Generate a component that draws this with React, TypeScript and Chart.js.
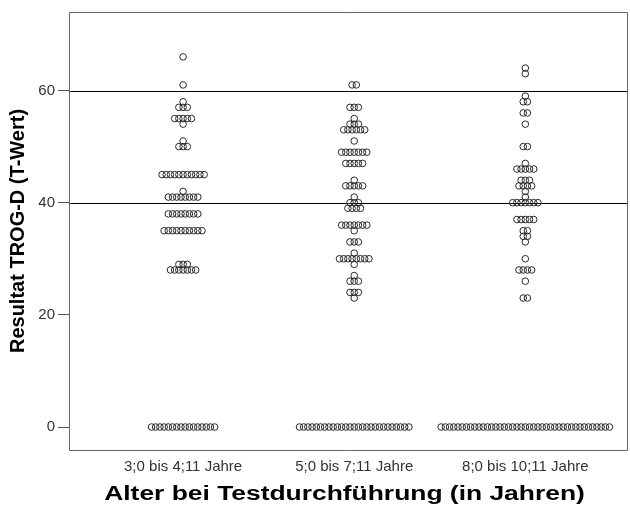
import React, { useEffect, useRef } from "react";
import { Chart, registerables } from "chart.js";

Chart.register(...registerables);

// ---- Data ----
const categories = ["3;0 bis 4;11 Jahre", "5;0 bis 7;11 Jahre", "8;0 bis 10;11 Jahre"];
const categoryPositions = [1, 2, 3];

// Group 1: 3;0 bis 4;11 Jahre (value, number of children)
const group1Values = [66, 61, 58, 57, 55, 54, 51, 50, 45, 42, 41, 38, 35, 29, 28, 0];
const group1Counts = [1, 1, 1, 3, 5, 1, 1, 3, 11, 1, 8, 8, 10, 3, 7, 16];

// Group 2: 5;0 bis 7;11 Jahre
const group2Values = [61, 57, 55, 54, 53, 51, 49, 47, 44, 43, 41, 40, 39, 36, 35, 33, 31, 30, 29, 27, 26, 24, 23, 0];
const group2Counts = [2, 3, 1, 3, 6, 1, 7, 5, 1, 5, 1, 3, 4, 7, 1, 3, 1, 8, 1, 1, 3, 3, 1, 27];

// Group 3: 8;0 bis 10;11 Jahre
const group3Values = [64, 63, 59, 58, 56, 54, 50, 47, 46, 44, 43, 42, 41, 40, 37, 35, 34, 33, 30, 28, 26, 23, 0];
const group3Counts = [1, 1, 1, 2, 2, 1, 2, 1, 5, 3, 4, 1, 1, 7, 5, 2, 2, 1, 1, 4, 1, 2, 41];

const yTicks = [0, 20, 40, 60];
const referenceLines = [40, 60];

const yTitle = "Resultat TROG-D (T-Wert)";
const xTitle = "Alter bei Testdurchführung (in Jahren)";

// ---- Helpers ----
const DOT_STEP = 0.0246; // horizontal spacing of stacked dots (x-axis units)
const FONT = "'Liberation Sans', Arial, sans-serif";

function buildPoints(center: number, values: number[], counts: number[]) {
  const pts: { x: number; y: number }[] = [];
  values.forEach((v, i) => {
    const n = counts[i];
    for (let k = 0; k < n; k++) {
      pts.push({ x: center + (k - (n - 1) / 2) * DOT_STEP, y: v });
    }
  });
  return pts;
}

const framePlugin = {
  id: "frameAndRefs",
  beforeDatasetsDraw(chart: any) {
    const { ctx, chartArea: a, scales } = chart;
    const y = scales.y;
    ctx.save();
    ctx.lineWidth = 1;
    ctx.strokeStyle = "#000";
    referenceLines.forEach((v) => {
      const py = Math.round(y.getPixelForValue(v)) + 0.5;
      ctx.beginPath();
      ctx.moveTo(a.left, py);
      ctx.lineTo(a.right, py);
      ctx.stroke();
    });
    ctx.strokeStyle = "#666";
    const l = Math.round(a.left) + 0.5;
    const t = Math.round(a.top) + 0.5;
    const r = Math.round(a.right) - 0.5;
    const b = Math.round(a.bottom) + 0.5;
    ctx.beginPath();
    ctx.moveTo(l, t);
    ctx.lineTo(r, t);
    ctx.lineTo(r, b);
    ctx.lineTo(l, b);
    ctx.closePath();
    ctx.stroke();
    ctx.restore();
  },
};

// x-axis title, drawn slightly widened as in the reference
const xTitlePlugin = {
  id: "xTitleWide",
  afterDraw(chart: any) {
    const { ctx } = chart;
    const xs = chart.scales.x;
    ctx.save();
    ctx.fillStyle = "#000";
    ctx.font = `bold 20px ${FONT}`;
    ctx.textAlign = "center";
    ctx.textBaseline = "middle";
    const cx = (xs.left + xs.right) / 2 - 4;
    const cy = xs.bottom - 19;
    ctx.translate(cx, cy);
    ctx.scale(1.32, 1);
    ctx.fillText(xTitle, 0, 0);
    ctx.restore();
  },
};

export default function App() {
  const canvasRef = useRef<HTMLCanvasElement | null>(null);

  useEffect(() => {
    document.body.style.margin = "0";
    const canvas = canvasRef.current;
    if (!canvas) return;

    const groups = [
      buildPoints(categoryPositions[0], group1Values, group1Counts),
      buildPoints(categoryPositions[1], group2Values, group2Counts),
      buildPoints(categoryPositions[2], group3Values, group3Counts),
    ];

    const chart = new Chart(canvas, {
      type: "scatter",
      data: {
        datasets: groups.map((pts, i) => ({
          label: categories[i],
          data: pts,
          pointStyle: "circle",
          pointRadius: 3.3,
          pointBorderWidth: 1,
          pointBorderColor: "#2a2a2a",
          pointBackgroundColor: "rgba(0,0,0,0)",
          showLine: false,
          clip: false,
        })),
      },
      options: {
        responsive: false,
        animation: false,
        devicePixelRatio: 1,
        layout: { autoPadding: false, padding: { top: 11, right: 2, left: 0, bottom: 0 } },
        plugins: {
          legend: { display: false },
          tooltip: { enabled: false },
        },
        scales: {
          x: {
            type: "linear",
            min: 0.3333,
            max: 3.6,
            afterFit: (scale: any) => {
              scale.height = 63;
            },
            afterBuildTicks: (scale: any) => {
              scale.ticks = categoryPositions.map((v) => ({ value: v }));
            },
            grid: { display: false, drawTicks: false },
            border: { display: false },
            ticks: {
              autoSkip: false,
              maxRotation: 0,
              padding: 8,
              color: "#333",
              font: { family: FONT, size: 15 },
              callback: (value: any) => {
                const idx = categoryPositions.indexOf(Number(value));
                return idx >= 0 ? categories[idx] : "";
              },
            },
            title: { display: false, text: xTitle },
          },
          y: {
            type: "linear",
            min: -4.1,
            max: 74,
            afterFit: (scale: any) => {
              scale.width = 69;
            },
            afterBuildTicks: (scale: any) => {
              scale.ticks = yTicks.map((v) => ({ value: v }));
            },
            grid: {
              display: true,
              drawOnChartArea: false,
              drawTicks: true,
              tickLength: 11,
              tickColor: "#555",
            },
            border: { display: false },
            ticks: {
              padding: 3,
              color: "#333",
              font: { family: FONT, size: 15 },
            },
            title: {
              display: true,
              text: yTitle,
              color: "#000",
              font: { family: FONT, size: 20, weight: "bold" },
              padding: { top: 6, bottom: 0 },
            },
          },
        },
      },
      plugins: [framePlugin, xTitlePlugin],
    });

    return () => {
      chart.destroy();
    };
  }, []);

  return (
    <div style={{ width: 630, height: 513 }}>
      <canvas ref={canvasRef} width={630} height={513} />
    </div>
  );
}
